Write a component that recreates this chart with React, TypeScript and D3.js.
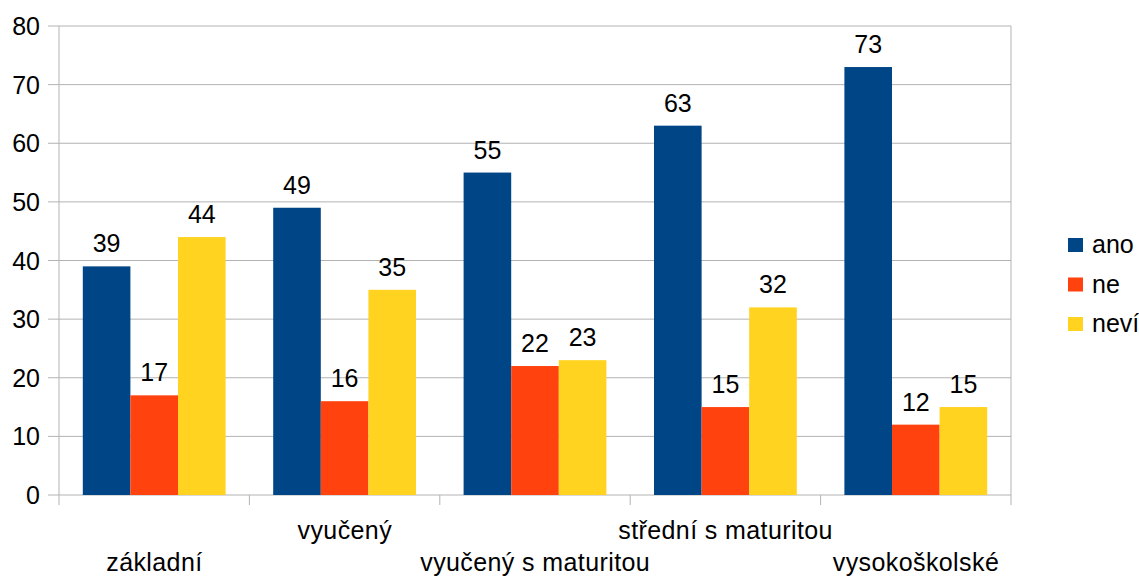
import React from "react";
import * as d3 from "d3";

const categories = ["základní", "vyučený", "vyučený s maturitou", "střední s maturitou", "vysokoškolské"];
const seriesNames = ["ano", "ne", "neví"];
const ano = [39, 49, 55, 63, 73];
const ne = [17, 16, 22, 15, 12];
const nevi = [44, 35, 23, 32, 15];
const yTicks = [0, 10, 20, 30, 40, 50, 60, 70, 80];
const colors = ["#004586", "#ff420e", "#ffd320"];

export default function App() {
  const W = 1139, H = 576;
  const left = 59, right = 1011, top = 26, bottom = 495;
  const series = [ano, ne, nevi];
  const x = d3.scaleBand<string>().domain(categories).range([left, right]).paddingInner(0).paddingOuter(0);
  const y = d3.scaleLinear().domain([0, 80]).range([bottom, top]);
  const bw = x.bandwidth();
  const barW = bw / 4;
  const inner = d3.scaleBand<string>().domain(seriesNames).range([bw / 8, bw - bw / 8]);
  const font = "'Liberation Sans', Arial, sans-serif";
  const fs = 25;
  const ls = 0.4;
  const boundaries = categories.map((c) => x(c) as number).concat([right]);
  return (
    <svg width={W} height={H} style={{ position: "absolute", left: 0, top: 0 }} fontFamily={font}>
      <rect x={0} y={0} width={W} height={H} fill="#fff" />
      {yTicks.map((t) => (
        <g key={t}>
          <line x1={48} x2={right} y1={y(t)} y2={y(t)} stroke="#b3b3b3" strokeWidth={1} />
          <text x={40} y={y(t) + 9} textAnchor="end" fontSize={fs} fill="#000">{t}</text>
        </g>
      ))}
      <line x1={left} x2={left} y1={top} y2={bottom} stroke="#b3b3b3" />
      <line x1={right} x2={right} y1={top} y2={bottom} stroke="#b3b3b3" />
      {boundaries.map((b, i) => (
        <line key={i} x1={b} x2={b} y1={bottom} y2={505} stroke="#b3b3b3" />
      ))}
      {categories.map((c, ci) => (
        <g key={c}>
          {series.map((s, si) => {
            const bx = (x(c) as number) + (inner(seriesNames[si]) as number) + (inner.bandwidth() - barW) / 2;
            return (
              <g key={si}>
                <rect x={bx} y={y(s[ci])} width={barW} height={bottom - y(s[ci])} fill={colors[si]} />
                <text x={bx + barW / 2} y={y(s[ci]) - 14} textAnchor="middle" fontSize={fs} fill="#000">{s[ci]}</text>
              </g>
            );
          })}
          <text x={(x(c) as number) + bw / 2 + ls / 2} y={ci % 2 === 0 ? 571 : 539} textAnchor="middle" fontSize={fs} letterSpacing={ls} fill="#000">{c}</text>
        </g>
      ))}
      {seriesNames.map((n, i) => (
        <g key={n}>
          <rect x={1068} y={238 + i * 39.5} width={15} height={14} fill={colors[i]} />
          <text x={1092} y={253 + i * 39.5} fontSize={fs} fill="#000">{n}</text>
        </g>
      ))}
    </svg>
  );
}
